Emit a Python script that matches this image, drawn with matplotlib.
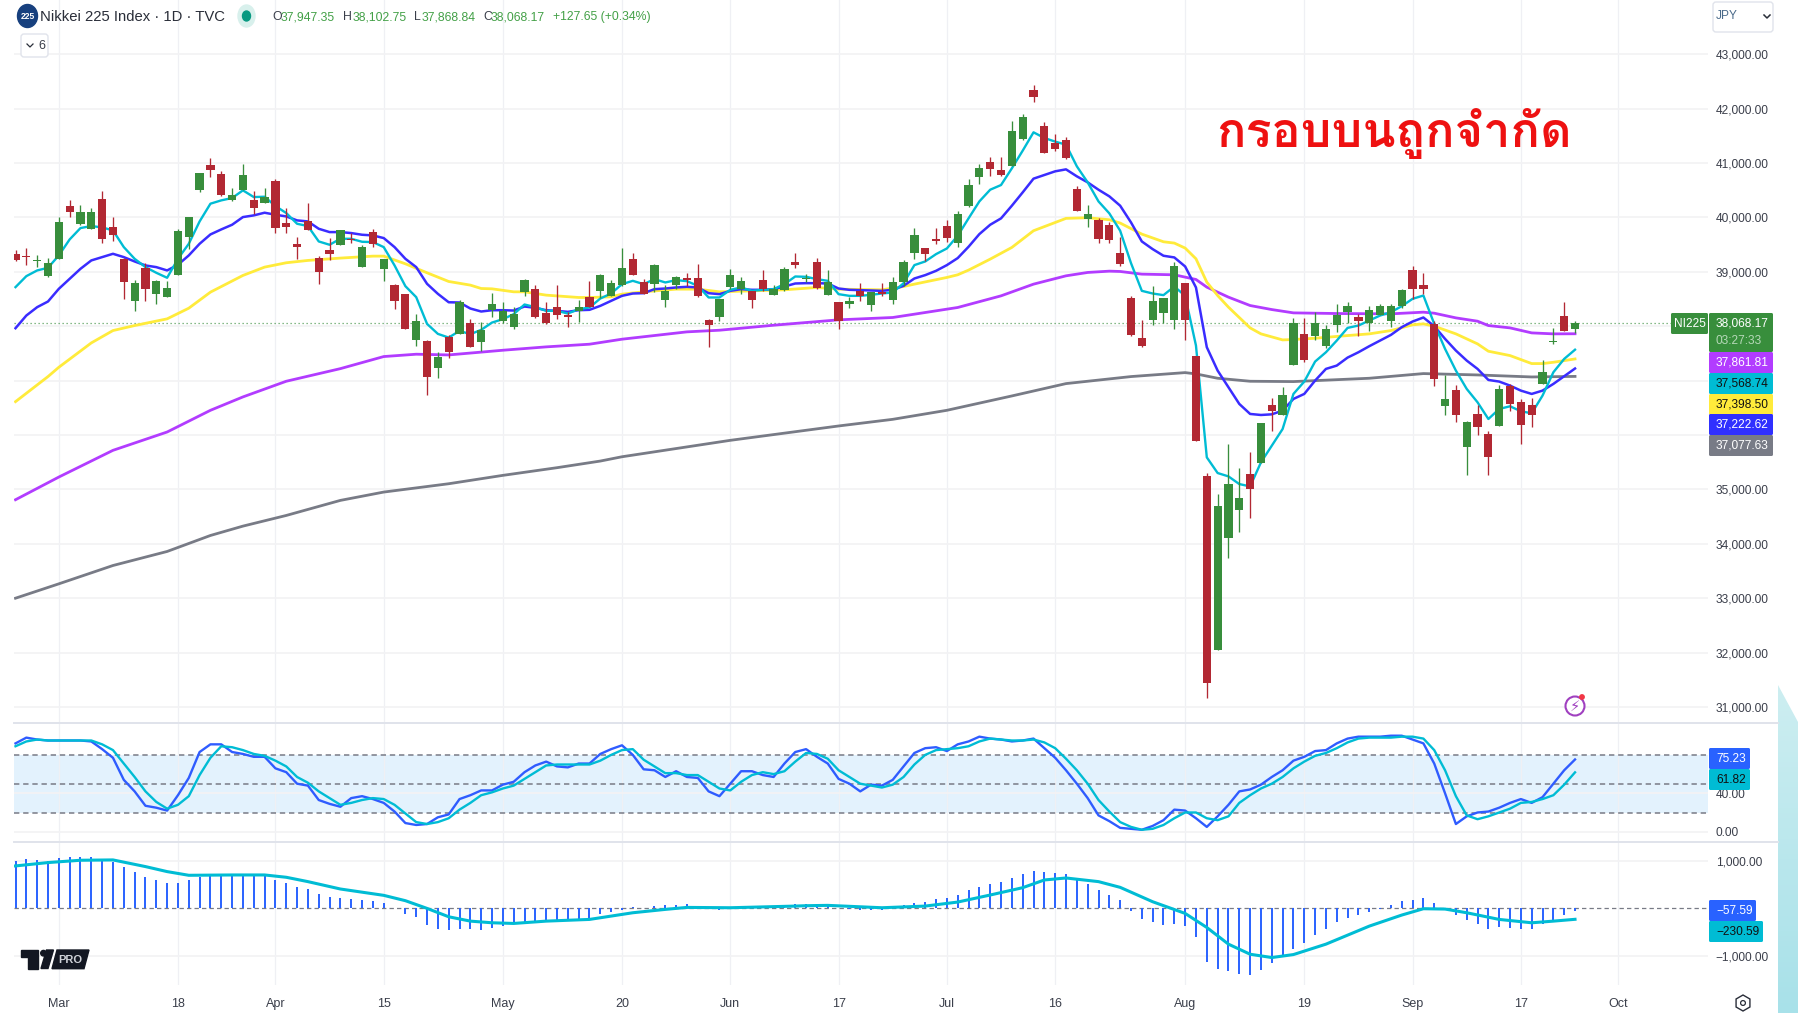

import matplotlib
matplotlib.use("Agg")
import matplotlib.pyplot as plt
import numpy as np
from matplotlib import font_manager
from matplotlib.ft2font import FT2Font
from matplotlib.patches import Circle, Ellipse, FancyBboxPatch, Polygon, RegularPolygon

plt.rcParams['font.family'] = ['Liberation Sans', 'DejaVu Sans']

# daily candles
opens = [39319,39282,39190,38920,39239,40209,39877,39785,40344,39822,
         39239,38466,39074,38583,38534,38945,39632,40509,40963,40798,
         40325,40509,40325,40264,40669,39890,39503,39933,39252,39393,
         39491,39601,39086,39730,39055,38761,38595,37742,37730,37239,
         37797,37853,38061,37712,38301,38098,37982,38620,38681,38245,
         38356,38209,38276,38540,38644,38552,38755,39227,38810,38779,
         38485,38755,38883,38883,38110,38160,38712,38675,38650,38841,
         38571,38669,39184,38859,39184,38571,38454,38411,38650,38393,
         38620,38485,38816,39350,39429,39595,39841,39534,40209,40736,
         41025,40865,40939,41442,42344,41681,41368,41430,40521,39963,
         39951,39865,39337,38521,37791,38123,38239,38123,38791,37460,
         35252,32055,34098,34620,35276,35485,36546,36374,37282,37865,
         37828,37644,38031,38264,38160,38061,38215,38104,38374,39031,
         38755,38049,36534,36822,35785,36387,36025,36172,36896,36613,
         36546,36945,37718,38184,37947]
closes = [39215,39264,39209,39166,39914,40104,40092,40092,39607,39669,
          38810,38798,38693,38822,38706,39755,40000,40822,40877,40405,
          40411,40779,40172,40368,39810,39828,39448,39767,38994,39331,
          39773,39583,39460,39515,39233,38466,37945,38092,37061,37436,
          37530,38454,37620,37933,38405,38276,38221,38841,38178,38055,
          38215,38160,38356,38362,38933,38791,39067,38939,38595,39117,
          38656,38908,38841,38552,38031,38497,38933,38834,38485,38681,
          38687,39043,39123,38883,38706,38816,38092,38472,38552,38632,
          38589,38816,39184,39681,39325,39571,39620,40061,40589,40908,
          40896,40779,41595,41841,42221,41190,41264,41098,40123,40067,
          39601,39577,39141,37840,37638,38472,38515,39110,38123,35896,
          31436,34687,35092,34847,35006,36227,36436,36730,38067,37380,
          38067,37957,38215,38368,38104,38301,38368,38368,38663,38693,
          38675,37037,36663,36374,36233,36147,35601,36847,36577,36190,
          36374,37160,37736,37920,38068]
highs = [39393,39436,39301,39252,40006,40325,40233,40172,40485,40006,
         39252,38847,39160,38847,38828,39779,40000,40822,41098,40853,
         40534,40988,40485,40534,40712,40172,39638,40258,39282,39620,
         39773,39718,39485,39779,39233,38779,38595,38233,37755,37521,
         37830,38478,38141,38086,38614,38436,38362,38865,38755,38436,
         38755,38264,38479,38822,38951,38847,39436,39344,38865,39135,
         38755,38914,38982,39135,38141,38497,39049,38908,38650,39031,
         38755,39092,39344,38957,39245,39025,38454,38528,38798,38632,
         38798,38908,39221,39798,39429,39798,39957,40110,40706,40975,
         41117,41117,41779,41896,42436,41748,41528,41479,40583,40227,
         39982,39920,39638,38558,38117,38730,38515,39184,38791,37460,
         35301,34908,35840,35387,35681,36227,36687,36890,38147,38147,
         38258,38031,38411,38442,38221,38368,38411,38411,38687,39098,
         38982,38104,37104,36920,36252,36552,36067,36920,36939,36663,
         36687,37387,37975,38442,38102]
lows = [39190,39129,39086,38896,39239,40006,39853,39785,39534,39558,
        38503,38282,38466,38417,38534,38945,39423,40466,40736,40393,
        40307,40497,40067,40264,39712,39718,39239,39767,38779,39209,
        39491,39534,39086,39460,38822,38319,37945,37644,36736,37055,
        37423,37853,37620,37546,38178,38055,37957,38546,38153,38049,
        38141,37982,38086,38362,38521,38552,38730,38939,38595,38620,
        38362,38693,38730,38528,37613,38092,38681,38589,38337,38650,
        38571,38656,39067,38804,38693,38571,37957,38337,38460,38276,
        38546,38411,38742,39233,39202,39503,39552,39460,40190,40620,
        40755,40767,40939,41430,42117,41190,41227,41074,40110,39822,
        39528,39534,39098,37822,37626,38025,38067,37957,37748,35896,
        31166,32055,33730,34209,34466,35485,36074,36374,37282,37337,
        37755,37607,37902,38061,37828,37920,38215,37994,38331,38503,
        38595,36902,36374,36233,35264,36006,35264,36172,36442,35828,
        36147,36945,37669,37920,37869]

# moving averages
ma_cyan = [38718,38920,39025,39074,39301,39595,39804,39841,39816,39761,
           39454,39239,39086,38982,38890,39239,39515,39926,40252,40313,
           40356,40497,40374,40380,40209,40080,39883,39841,39558,39497,
           39607,39607,39552,39546,39454,39117,38736,38534,38043,37859,
           37791,37914,37853,37933,38067,38129,38221,38399,38350,38282,
           38282,38233,38313,38344,38509,38601,38773,38834,38773,38865,
           38804,38847,38828,38742,38528,38528,38669,38712,38650,38669,
           38681,38773,38914,38908,38865,38834,38589,38558,38558,38577,
           38601,38620,38790,39123,39190,39325,39429,39663,39982,40294,
           40509,40595,40902,41227,41564,41460,41393,41337,40939,40644,
           40294,40074,39755,39160,38650,38601,38571,38730,38558,37644,
           35589,35301,35239,35098,35055,35497,35804,36110,36755,36982,
           37350,37521,37736,37969,38012,38104,38196,38258,38368,38503,
           38564,38043,37583,37184,36847,36601,36294,36479,36528,36436,
           36399,36724,37153,37399,37568]
ma_blue = [37963,38196,38350,38454,38687,38871,39055,39209,39270,39331,
           39270,39190,39117,39086,39025,39129,39301,39515,39687,39779,
           39865,40006,40037,40086,40049,40018,39945,39926,39791,39730,
           39730,39712,39681,39669,39620,39454,39239,39086,38779,38595,
           38440,38436,38325,38270,38294,38294,38288,38362,38337,38294,
           38282,38264,38294,38301,38374,38466,38558,38601,38607,38681,
           38693,38712,38724,38712,38607,38589,38650,38681,38669,38669,
           38681,38730,38785,38791,38791,38785,38693,38669,38663,38656,
           38650,38669,38742,38877,38939,39018,39123,39252,39460,39693,
           39865,39982,40215,40460,40712,40779,40847,40883,40755,40644,
           40509,40387,40215,39908,39558,39417,39295,39264,39098,38712,
           37614,37184,36877,36571,36387,36368,36380,36448,36663,36755,
           37000,37215,37276,37423,37521,37632,37736,37840,37982,38086,
           38160,38000,37767,37552,37368,37215,37012,36982,36908,36816,
           36755,36816,36939,37080,37222]
yellow_i = [0,3,4,7,9,11,14,16,18,21,23,25,27,30,33,34,36,38,40,42,43,44,46,47,49,52,53,55,56,58,61,63,65,68,71,74,76,
            80,82,83,86,87,88,90,92,94,97,99,101,102,104,106,107,108,109,110,111,112,114,115,117,118,120,123,125,127,
            129,130,131,133,135,136,138,140,141,142,144]
yellow_v = [36613,37074,37245,37693,37920,38012,38135,38331,38626,38933,39086,39166,39209,39252,39288,39288,39147,38982,38822,
            38755,38693,38687,38632,38632,38571,38528,38528,38540,38589,38632,38681,38681,38632,38650,38669,38712,38681,
            38669,38730,38773,38896,38945,39031,39233,39448,39755,39982,39994,39957,39896,39693,39552,39528,39436,39239,
            38810,38564,38350,37969,37859,37748,37755,37779,37828,37859,37920,38025,38043,38000,37859,37675,37540,37460,
            37313,37313,37337,37398]
purple_i = [0,4,9,14,18,21,25,30,34,37,40,45,49,53,56,62,65,70,76,81,83,87,91,94,97,99,101,102,104,107,109,110,112,114,116,118,
            122,127,130,131,133,135,136,138,140,142,144]
purple_v = [34810,35227,35718,36055,36454,36700,36988,37220,37442,37485,37472,37558,37620,37669,37761,37896,37926,38018,38117,
            38160,38221,38344,38558,38773,38926,38988,39012,39006,38957,38945,38859,38718,38534,38380,38306,38245,
            38233,38227,38258,38239,38153,38092,38012,37969,37877,37859,37861]
grey_i = [0,4,9,14,18,21,25,30,34,40,45,50,54,56,66,76,81,86,92,97,103,108,109,111,114,118,125,130,135,140,144]
grey_v = [33000,33264,33601,33859,34153,34325,34521,34798,34951,35104,35258,35399,35521,35600,35902,36166,36288,36454,36718,
          36945,37074,37147,37123,37043,36988,36982,37043,37129,37104,37067,37077]

# stochastic pane
stoch_k = [92,98,96,95,95,95,95,94,86,77,54,42,27,25,22,38,56,83,91,91,83,81,78,78,66,62,50,48,33,29,
           26,35,37,34,30,21,9,7,8,15,18,34,38,43,43,49,52,62,69,73,68,67,71,71,81,86,90,80,65,64,
           57,63,57,56,42,37,50,63,63,59,57,71,83,86,78,71,55,50,42,49,48,54,68,82,87,88,84,91,94,99,
           97,96,94,95,97,87,77,64,50,35,17,11,4,3,2,6,12,23,22,14,5,16,28,42,44,49,57,64,74,78,
           84,85,92,97,99,99,99,100,100,96,92,71,40,8,16,20,21,25,30,34,30,36,50,64,75.23]
stoch_d = [89,94,96,95,95,95,95,95,91,85,71,57,42,31,24,28,37,59,77,89,88,85,81,79,74,68,57,51,42,35,
           28,30,33,35,34,28,19,10,8,10,14,23,30,38,41,45,48,55,62,69,70,70,70,70,74,80,85,86,75,68,
           61,61,59,59,52,45,43,52,59,62,60,63,73,82,81,76,64,57,50,48,46,49,57,70,80,85,86,87,89,94,
           97,96,95,95,96,93,87,76,64,50,33,21,10,5,2,3,7,14,20,20,14,12,16,30,38,45,50,57,66,73,
           79,82,87,93,97,98,98,98,99,99,97,85,64,37,17,13,16,20,24,30,31,34,38,49,61.82]
stoch_ticks = [0, 40]
stoch_ticklabels = ['0.00', '40.00']

# macd pane
macd_hist = [1004,1039,1025,1011,1068,1089,1089,1082,1039,990,884,778,672,594,537,537,594,672,686,693,
             707,714,707,686,594,530,460,410,304,247,219,198,170,148,120,7,-120,-191,-354,-438,
             -460,-438,-438,-460,-410,-375,-332,-297,-269,-262,-255,-247,-226,-212,-113,-85,-35,35,0,49,
             71,71,92,49,7,-35,14,21,0,0,14,57,85,85,85,71,14,-7,-42,-35,
             -42,7,64,113,141,198,219,276,382,460,516,566,636,721,799,771,742,728,601,516,
             382,276,170,-64,-219,-297,-354,-325,-375,-615,-1138,-1273,-1322,-1379,-1400,-1294,-1152,-1025,-855,-721,
             -566,-438,-297,-198,-141,-71,-21,64,148,170,219,120,-35,-148,-255,-325,-431,-403,-410,-431,
             -431,-332,-262,-148,-57.59]
signal_i = [0,3,6,9,12,14,16,20,23,25,27,30,34,36,38,40,42,44,46,49,53,57,60,62,66,72,73,75,80,84,87,90,93,95,97,100,102,
            105,108,110,112,114,116,118,121,125,128,130,132,134,137,140,142,144]
signal_v = [898,969,1018,1025,884,778,700,707,707,658,566,410,276,163,0,-177,-269,-304,-318,-269,-233,-92,-21,21,14,49,57,64,14,49,
            134,283,438,601,643,566,445,141,-106,-403,-756,-969,-1039,-976,-756,-375,-141,-7,-14,-92,-233,-304,-269,-230.59]
macd_ticks = [1000, -1000]
macd_ticklabels = ['1,000.00', '\u22121,000.00']

# axes labels, the scale tags hide 36,000 to 38,000 in the picture
price_ticks = [31000,32000,33000,34000,35000,36000,37000,38000,39000,40000,41000,42000,43000]
hidden_ticks = [36000,37000,38000]
tick_idx = [4,15,24,34,45,56,66,76,86,96,108,119,129,139,148]
tick_labels = ['Mar','18','Apr','15','May','20','Jun','17','Jul','16','Aug','19','Sep','17','Oct']

C_GREEN = '#388e3c'
C_RED = '#b22833'
C_GRID = '#f3f3f5'
C_VGRID = '#eff0f4'
C_TEXT = '#3a3e4a'
FS = 8.6

W, H = 1798, 1013
fig = plt.figure(figsize=(W / 100, H / 100), dpi=100, facecolor='white')

def pane(top, bottom):
    ax = fig.add_axes([14 / W, 1 - bottom / H, (1708 - 14) / W, (bottom - top) / H])
    for s in ax.spines.values():
        s.set_visible(False)
    ax.set_xlim((14 - 15.5) / 10.83, (1708 - 15.5) / 10.83)
    ax.set_xticks(tick_idx)
    ax.set_xticklabels([])
    ax.grid(True, axis='x', color=C_VGRID, lw=0.9)
    ax.grid(True, axis='y', color=C_GRID, lw=1.3)
    ax.set_axisbelow(True)
    ax.yaxis.tick_right()
    ax.tick_params(length=0, labelsize=FS, labelcolor=C_TEXT, pad=5.5)
    return ax

# main pane
ax = pane(0, 722.7)
ax.set_ylim(31000 + (707 - 722.7) / 54.4 * 1000, 31000 + 707 / 54.4 * 1000)
ax.set_yticks(price_ticks)
ax.set_yticklabels(['' if v in hidden_ticks else '{:,.2f}'.format(v) for v in price_ticks])

idx = np.arange(len(opens))
op, cl, hi, lo = map(np.array, (opens, closes, highs, lows))
colors = np.where(cl >= op, C_GREEN, C_RED)

ax.plot(grey_i, grey_v, color='#787b86', lw=2.0, zorder=3)
ax.plot(purple_i, purple_v, color='#b23cff', lw=2.0, zorder=3)
ax.plot(yellow_i, yellow_v, color='#ffeb3b', lw=2.0, zorder=3)
ax.plot(idx, ma_blue, color='#3a2cff', lw=1.8, zorder=3)
ax.plot(idx, ma_cyan, color='#00bcd4', lw=1.7, zorder=3)
ax.axhline(closes[-1], color=C_GREEN, lw=0.9, ls=(0, (1, 2.2)), alpha=0.8, zorder=2)
ax.vlines(idx, lo, hi, colors=colors, lw=0.95, zorder=4)
ax.bar(idx, np.maximum(np.abs(cl - op), 12), bottom=np.minimum(op, cl), width=0.76, color=colors, zorder=5)

# stochastic pane
ax2 = pane(722.7, 841.7)
ax2.set_ylim((831.7 - 841.7) / 0.96, (831.7 - 722.7) / 0.96)
ax2.set_yticks(stoch_ticks)
ax2.set_yticklabels(stoch_ticklabels)
ax2.axhspan(20, 80, color='#e3f2fd', lw=0, zorder=0.5)
for lev in (80, 50, 20):
    ax2.axhline(lev, color='#787b86', lw=1.1, ls=(0, (3.5, 2.5)), zorder=1)
ax2.plot(idx, stoch_k, color='#2f5cff', lw=1.7, zorder=3)
ax2.plot(idx, stoch_d, color='#00bcd4', lw=1.7, zorder=4)

# macd pane
ax3 = pane(841.7, 985)
ax3.set_ylim((908.4 - 985) / 47.3 * 1000, (908.4 - 841.7) / 47.3 * 1000)
ax3.set_yticks(macd_ticks)
ax3.set_yticklabels(macd_ticklabels)
ax3.axhline(0, color='#787b86', lw=0.9, ls=(0, (3.5, 2.5)), zorder=1)
ax3.vlines(idx, 0, macd_hist, colors='#2962ff', lw=1.4, zorder=3)
ax3.plot(signal_i, signal_v, color='#00bcd4', lw=2.2, zorder=4)
ax3.set_xticklabels(tick_labels, fontsize=FS + 0.4, color=C_TEXT)
ax3.tick_params(axis='x', pad=9)

# overlay in pixel coordinates for the chart furniture
ov = fig.add_axes([0, 0, 1, 1], facecolor='none', zorder=10)
ov.set_xlim(0, W)
ov.set_ylim(H, 0)
ov.axis('off')

def T(x, y, s, color=C_TEXT, size=FS, ha='left', **kw):
    return ov.text(x, y, s, color=color, fontsize=size, ha=ha, va='center', **kw)

# teal corner shape
grad = np.linspace(0, 1, 64).reshape(-1, 1)
cmap = matplotlib.colors.LinearSegmentedColormap.from_list('teal', ['#cdeef1', '#a8e1e9'])
im = ov.imshow(grad, extent=(1778, 1798, H, 685), cmap=cmap, aspect='auto', zorder=1)
im.set_clip_path(Polygon([(1778, 685), (1798, 722), (1798, H), (1778, H)], transform=ov.transData))
ov.set_xlim(0, W)
ov.set_ylim(H, 0)

# pane separators
for y in (722.7, 841.7):
    ov.plot([14, 1778], [y, y], color='#e0e3eb', lw=1.4, zorder=2)

# header
ov.add_patch(Ellipse((27.5, 16), 20, 23, color='#17407e', zorder=3))
T(27.5, 16.5, '225', color='white', size=6.2, ha='center', fontweight='bold', zorder=4)
T(40, 17, 'Nikkei 225 Index \u00b7 1D \u00b7 TVC', size=10.7, color='#2a2e39')
ov.add_patch(Ellipse((246.5, 16), 17, 22, color='#d8f0ec', zorder=3))
ov.add_patch(Ellipse((246.5, 16), 8, 10, color='#089981', zorder=4))
ohlc_names = ['O', 'H', 'L', 'C']
ohlc_x = [272, 343, 414, 483]
ohlc_val_x = [281, 353, 422, 491]
ohlc_vals = ['37,947.35', '38,102.75', '37,868.84', '38,068.17']
for x, xv, n, v in zip(ohlc_x, ohlc_val_x, ohlc_names, ohlc_vals):
    T(x, 17, n, color=C_TEXT, size=8.8)
    T(xv, 17, v, color='#43a047', size=8.8)
T(553, 17, '+127.65 (+0.34%)', color='#43a047', size=8.8)

ov.add_patch(FancyBboxPatch((21, 34), 27, 23, boxstyle='round,pad=0,rounding_size=3', fc='white', ec='#e0e3eb', lw=1, zorder=3))
ov.plot([27, 30, 33], [44, 47, 44], color='#2a2e39', lw=0.9, zorder=4)
T(38, 46, '6', size=9, zorder=4)

ov.add_patch(FancyBboxPatch((1713, 2), 60, 30, boxstyle='round,pad=0,rounding_size=3', fc='white', ec='#e0e3eb', lw=1, zorder=3))
T(1716, 16, 'JPY', color='#4a6a8a', size=FS, zorder=4)
ov.plot([1764, 1767, 1770], [15, 18, 15], color='#2a2e39', lw=1.1, zorder=4)

# value tags on the scales
def tag(x0, x1, y0, y1, fc, s, tc, x_text=1716, va_y=None):
    ov.add_patch(FancyBboxPatch((x0, y0), x1 - x0, y1 - y0, boxstyle='round,pad=0,rounding_size=1.5', fc=fc, ec='none', zorder=5))
    T(x_text, (y0 + y1) / 2 if va_y is None else va_y, s, color=tc, zorder=6)

tag(1671, 1708, 313, 334, C_GREEN, 'NI225', 'white', x_text=1674)
tag(1709, 1773, 313, 352, C_GREEN, '38,068.17', 'white', va_y=323)
T(1716, 341, '03:27:33', color='#b6d8b8', zorder=6)
side_tops = [352, 373, 394, 414, 435]
side_fc = ['#b23cff', '#00bcd4', '#ffeb3b', '#3030ff', '#787b86']
side_tc = ['white', '#111111', '#111111', 'white', 'white']
side_txt = ['37,861.81', '37,568.74', '37,398.50', '37,222.62', '37,077.63']
for y, fc, tc, s in zip(side_tops, side_fc, side_tc, side_txt):
    tag(1709, 1773, y, y + 21, fc, s, tc)

tag(1709, 1750, 748, 769, '#2962ff', '75.23', 'white')
tag(1709, 1750, 769, 790, '#00bcd4', '61.82', '#111111')
tag(1709, 1756, 900, 921, '#2962ff', '\u221257.59', 'white')
tag(1709, 1763, 921, 942, '#00bcd4', '\u2212230.59', '#111111')

# Thai caption, pick an installed upright font that has the glyphs
candidates = []
for p in sorted(font_manager.findSystemFonts()):
    try:
        if 0x0E01 in FT2Font(p).get_charmap():
            candidates.append(p)
    except Exception:
        pass
upright = [p for p in candidates if 'oblique' not in p.lower() and 'italic' not in p.lower()]
bold = [p for p in upright if 'bold' in p.lower()]
thai_path = (bold or upright or candidates or [None])[0]
caption = '\u0e01\u0e23\u0e2d\u0e1a\u0e1a\u0e19\u0e16\u0e39\u0e01\u0e08\u0e33\u0e01\u0e31\u0e14'
if thai_path:
    fp = font_manager.FontProperties(fname=thai_path, size=35)
    ov.text(1394, 133, caption, color='#ee1111', ha='center', va='center', fontproperties=fp, zorder=6)
else:
    ov.text(1394, 133, caption, color='#ee1111', ha='center', va='center', fontsize=35, zorder=6)

# flash icon
ov.add_patch(Circle((1575, 706), 9.5, fc='white', ec='#a040c0', lw=1.5, zorder=5))
T(1575, 706, '\u26a1', color='#a040c0', size=10.5, ha='center', family='DejaVu Sans', zorder=6)
ov.add_patch(Circle((1582, 697), 2.2, color='#f23645', zorder=6))

# settings icon
ov.add_patch(RegularPolygon((1743, 1003), 6, radius=8, fc='white', ec='#2a2e39', lw=1, zorder=5))
ov.add_patch(Circle((1743, 1003), 2.4, fc='white', ec='#2a2e39', lw=0.9, zorder=6))

# TV PRO logo
ov.add_patch(Polygon([(21.4, 950), (38, 950), (38, 968.5), (28, 968.5), (28, 957.3), (21.4, 957.3)], color='#131722', zorder=5))
ov.add_patch(Circle((43.5, 953.2), 2.8, color='#131722', zorder=5))
ov.add_patch(Polygon([(46.5, 950), (53.5, 950), (48, 968.5), (41, 968.5)], color='#131722', zorder=5))
ov.add_patch(Polygon([(57, 950), (89, 950), (84, 968.7), (52, 968.7)], color='#131722', zorder=5))
T(70.5, 959.5, 'PRO', color='#cfd2d8', size=8, ha='center', fontweight='bold', zorder=6)

fig.savefig('out.png', dpi=100, facecolor='white')
